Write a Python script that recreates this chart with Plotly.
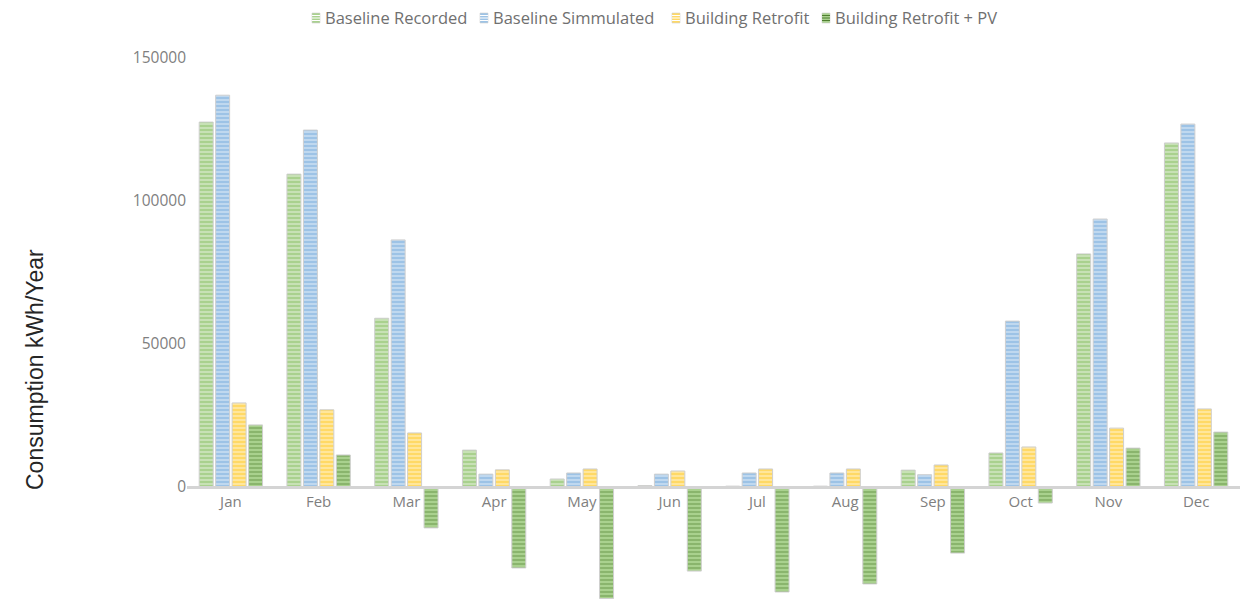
import plotly.graph_objects as go

months = ["Jan", "Feb", "Mar", "Apr", "May", "Jun", "Jul", "Aug", "Sep", "Oct", "Nov", "Dec"]
baseline_recorded = [127600, 109400, 59000, 12900, 2800, 500, 300, 300, 5900, 11900, 81500, 120300]
baseline_simulated = [137000, 124800, 86400, 4500, 4900, 4500, 4900, 4900, 4300, 58000, 93700, 126900]
building_retrofit = [29400, 27000, 18900, 6000, 6300, 5600, 6300, 6300, 7700, 14000, 20600, 27300]
retrofit_pv = [21700, 11200, -14300, -28300, -39000, -29400, -36700, -33900, -23100, -5600, 13600, 19200]
ytick_vals = [0, 50000, 100000, 150000]

series = [
    ("Baseline Recorded", baseline_recorded, "#a9d18e", "#ffffff"),
    ("Baseline Simmulated", baseline_simulated, "#9dc3e6", "#ffffff"),
    ("Building Retrofit", building_retrofit, "#ffd966", "#ffffff"),
    ("Building Retrofit + PV", retrofit_pv, "#a9d18e", "#4f7f30"),
]
# left edge (px) of each legend icon
legend_icon_x = [312, 480, 672, 822]

fig = go.Figure()
for name, vals, bg, fg in series:
    fig.add_trace(go.Bar(
        x=months, y=vals, name=name, showlegend=False,
        marker=dict(
            color=bg,
            line=dict(color="#cfcfcf", width=1),
            pattern=dict(shape="-", fgcolor=fg, bgcolor=bg, size=4, solidity=0.35, fillmode="overlay"),
        ),
    ))

W, H = 1244, 601
L, R, T, B = 187, 4, 50, 0
ymin, ymax = -39860, 152800
pw = W - L - R
ph = H - T - B


def px_x(sx):
    return (sx - L) / pw


def px_y(sy):
    return (H - B - sy) / ph


shapes = []
annotations = []
for (name, _, bg, fg), ix in zip(series, legend_icon_x):
    shapes.append(dict(type="rect", xref="paper", yref="paper",
                       x0=px_x(ix), x1=px_x(ix + 8), y0=px_y(23), y1=px_y(13),
                       fillcolor=bg, line=dict(color="#d0d0d0", width=0.6)))
    for ly in (15.5, 18, 20.5):
        shapes.append(dict(type="line", xref="paper", yref="paper",
                           x0=px_x(ix), x1=px_x(ix + 8), y0=px_y(ly), y1=px_y(ly),
                           line=dict(color=fg, width=1)))
    annotations.append(dict(text=name, x=px_x(ix + 11), y=px_y(18), xref="paper", yref="paper",
                            xanchor="left", yanchor="middle", showarrow=False,
                            font=dict(family="Open Sans, sans-serif", size=16.5, color="#707070")))

annotations.append(dict(text="Consumption kWh/Year", textangle=-90,
                        x=px_x(35), xref="paper", y=px_y(370), yref="paper",
                        xanchor="center", yanchor="middle", showarrow=False,
                        font=dict(family="Liberation Sans, Arial, sans-serif", size=23, color="#262626")))

fig.update_layout(
    width=W, height=H,
    margin=dict(l=L, r=R, t=T, b=B, autoexpand=False),
    paper_bgcolor="white", plot_bgcolor="white",
    barmode="group", bargap=0.25, bargroupgap=0.15,
    font=dict(family="Open Sans, sans-serif", color="#7f7f7f"),
    showlegend=False,
    hovermode=False,
    xaxis=dict(anchor="free", position=-ymin / (ymax - ymin), showline=True, linecolor="#d4d4d4",
               linewidth=3, ticks="", showgrid=False, automargin=False,
               tickfont=dict(size=15, color="#7f7f7f")),
    yaxis=dict(range=[ymin, ymax], tickvals=ytick_vals, ticktext=[str(v) for v in ytick_vals],
               showgrid=False, zeroline=False, showline=False, ticks="", automargin=False,
               tickfont=dict(size=15.5, color="#7f7f7f")),
    shapes=shapes,
    annotations=annotations,
)
fig.write_html("out.html", config={"displayModeBar": False},
               post_script="document.body.style.margin='0px';")
